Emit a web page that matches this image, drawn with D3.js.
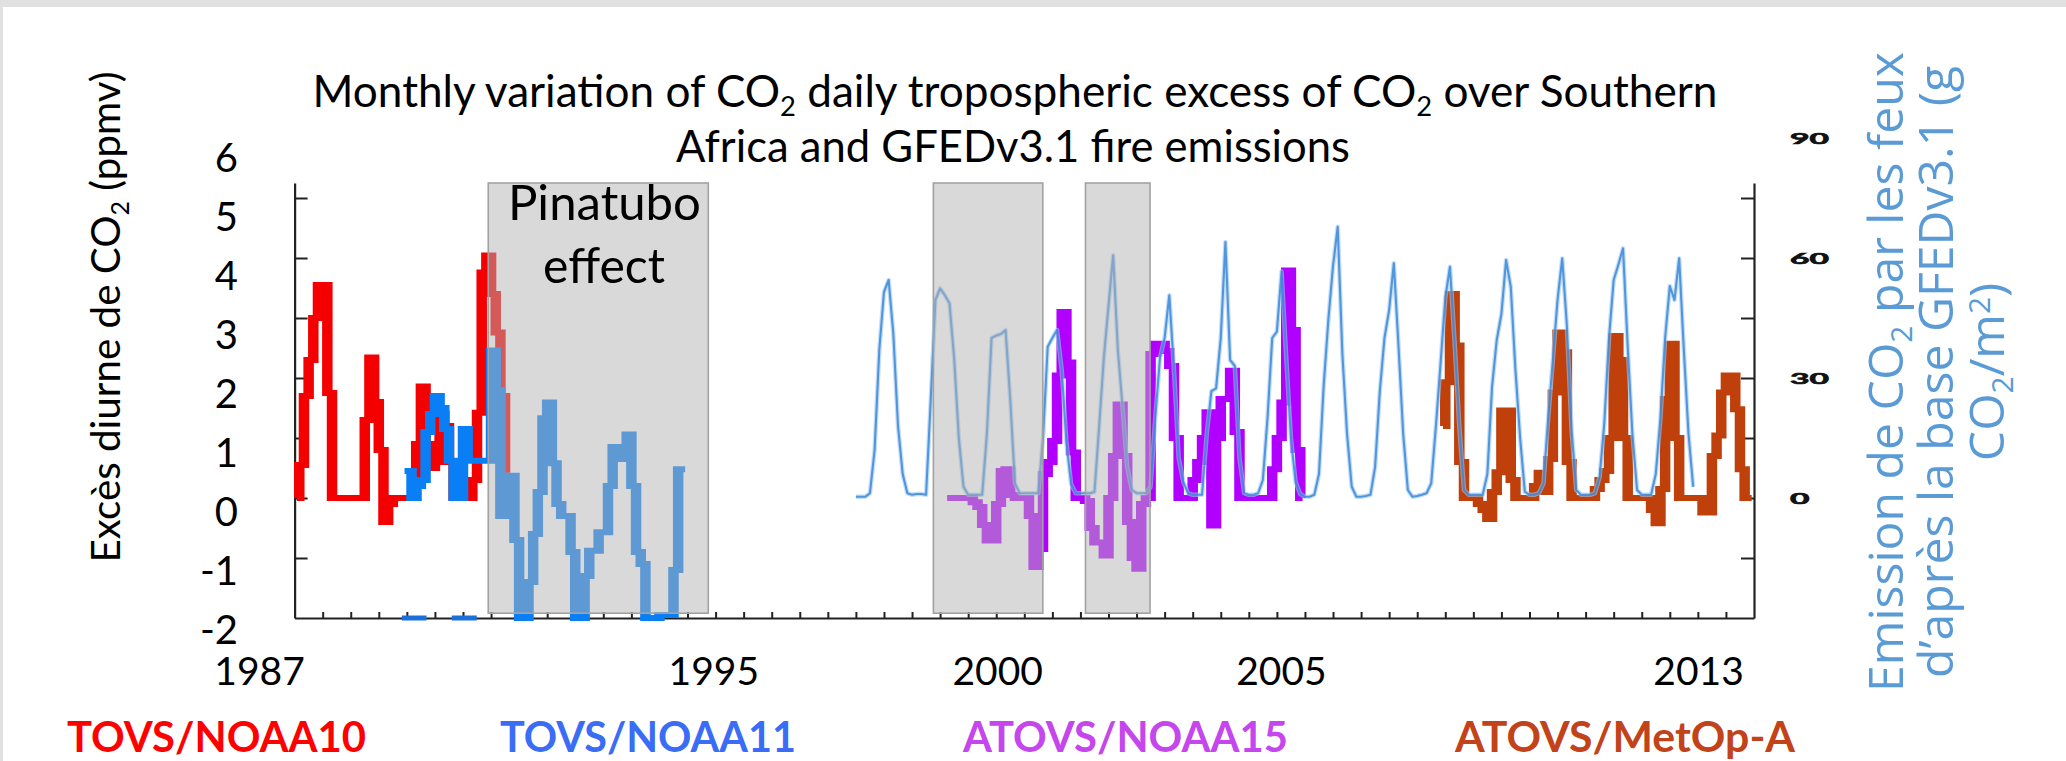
<!DOCTYPE html>
<html>
<head>
<meta charset="utf-8">
<script src="https://cdn.jsdelivr.net/npm/d3@7"></script>
<style>
  html, body { margin: 0; padding: 0; background: #fff; }
  svg { display: block; }
  text { font-family: Lato, "Open Sans", sans-serif; }
</style>
</head>
<body>
<svg id="chart" width="2066" height="761"></svg>
<script>
// ---------------- data ----------------
const yearLabels = [1987, 1995, 2000, 2005, 2013];
const leftLabels = [6, 5, 4, 3, 2, 1, 0, -1, -2];
const rightLabels = [90, 60, 30, 0];

// Monthly CO2 tropospheric excess (ppmv), one value per month from the start month
const noaa10Start = 1987;            // January 1987
const noaa10 = [0, 0.55, 1.7, 2.3, 3.0, 3.55, 3.55, 1.75, 0, 0, 0, 0, 0, 0, 0, 1.3, 2.34, 1.6, 0.8, -0.4,
  -0.1, 0, 0, 0, 0, 0, 0.9, 1.86, 0.9, 0.5, 0.6, 1.4, 1.2, 0.6, 0, 0, 0, 0, 0.3, 1.42,
  3.76, 4.04, 3.4, 2.76, 1.7, 0.42];

const noaa11Start = 1987 + 23 / 12;  // December 1988
const noaa11 = [0.45, 0.45, 0, 0.2, 0.3, 1.1, 1.4, 1.7, 1.5, 1.15, 0.62, 0, 0, 1.15, 0.62, 0.62, 0.62, 0.62, 0.62,
  2.46, 1.8, -0.3, 0.37, 0.37, -0.7, -2, -2, -1.4, -0.6, 0.1, 1.33, 1.59, 0.58, -0.1, -0.3, -0.3, -0.9,
  -2, -2, -1.3, -0.88, -0.88, -0.57, -0.57, 0.2, 0.85, 0.65, 0.65, 1.06, 0.2, -0.9, -1.1,
  -2, -2, -2, -1.95, -1.95, -1.95, -1.2, 0.48, 0.48];
// stretches where NOAA-11 sits on the lower bound of the axis
const noaa11Floor = [[1988.91, 1989.35], [1989.80, 1990.245]];

const noaa15Start = 1998 + 7 / 12;   // August 1998
const noaa15 = [0, 0, 0, 0, 0, 0, -0.07, -0.15, -0.45, -0.71, -0.71, -0.1, 0.45, 0.48, 0.05, 0, 0, 0,
  -0.3, -1.15, -0.85, 0.4, 0.6, 0.95, 2.04, 3.1, 2.26, 0.76, 0, 0, -0.05, -0.5, -0.74, -0.74, -0.96,
  0, 0.7, 1.56, 0.7, -0.4, -1.0, -1.18, -0.1, 0, 2.4, 2.57, 2.57, 2.45, 2.2, 1.0, 0, 0, 0, 0.3, 0.6,
  1.0, 1.43, -0.46, 1.0, 1.65, 1.65, 2.12, 1.1, 0, 0, 0, 0, 0, 0, 0, 0.48, 1.0, 1.59, 3.79, 2.8, 0.8, 0];

const metopStart = 2007 + 5 / 12;    // June 2007
const metop = [1.2, 1.93, 3.4, 2.54, 0.6, 0, 0, 0, -0.1, -0.2, -0.35, 0.1, 0.43, 1.46, 1.46, 0.3, 0, 0, 0, 0,
  0.2, 0.42, 0.1, 0.65, 1.76, 2.76, 2.43, 0.6, 0, 0, 0, 0, 0, 0.15, 0.3, 0.45, 1.0, 2.7, 2.3, 1.0,
  0, 0, 0, 0, 0, -0.2, -0.42, 0.15, 1.65, 2.57, 1.0, 0, 0, 0, 0, 0, -0.24, -0.24, 0.7, 1.04, 1.76,
  2.04, 2.04, 1.48, 0.48, 0, 0];

// GFEDv3.1 monthly fire emissions (g CO2 / m2), January 1997 - December 2011
const gfedStart = 1997;
const gfed = [
  0.3, 0.3, 0.3, 1.2, 12, 37, 51.5, 54.5, 41, 18, 6, 1.2,
  0.8, 1.0, 1.0, 0.8, 24.5, 49.5, 52.4, 50.7, 48.7, 35, 15, 2.8,
  0.8, 0.8, 0.8, 0.8, 16, 40, 40.6, 41, 42, 24.5, 3.7, 1.2,
  1.2, 1.2, 1.2, 1.2, 15, 37.8, 40, 42, 32, 14, 3.5, 1.2,
  1.2, 1.2, 1.2, 1.5, 17.8, 35, 48, 60.7, 37, 22.8, 7.8, 2,
  1.2, 1.2, 1.2, 2.8, 20, 35, 40, 50.7, 32, 10, 4, 1.2,
  0.8, 0.8, 0.8, 16, 26.7, 27.4, 40, 64, 34.5, 33, 10, 1.2,
  0.8, 0.8, 1.2, 4.5, 20, 40, 41.6, 56.6, 35, 15, 4, 1,
  0.3, 0.3, 0.8, 6, 28, 44.5, 58, 67.8, 36, 16, 2.8, 0.3,
  0.3, 0.5, 0.8, 7.8, 26.6, 40, 47, 58.7, 38, 16, 2, 0.3,
  0.5, 0.8, 1.2, 3.7, 18, 33.7, 50, 57.8, 38.7, 17.8, 2, 0.8,
  0.8, 0.8, 0.8, 6, 27.8, 39.5, 46, 59.5, 52.8, 32, 15, 1.6,
  0.8, 0.8, 1.2, 3.7, 20, 34.5, 49.5, 59.9, 43, 17, 2, 0.8,
  0.8, 0.8, 1.2, 5.3, 18.7, 40, 54.5, 58.3, 62.4, 37.8, 16, 2,
  0.8, 0.8, 0.8, 6, 20, 40, 53, 49.5, 59.9, 37, 16, 2.8];

// shaded periods (Pinatubo aftermath and two later episodes)
const shadedPeriods = [[1990.45, 1994.37], [1998.38, 2000.33], [2001.09, 2002.24]];

const legendItems = ["TOVS/NOAA10", "TOVS/NOAA11", "ATOVS/NOAA15", "ATOVS/MetOp-A"];

// ---------------- layout ----------------
const svg = d3.select("#chart");
const W = 2066, H = 761;

const x = d3.scaleLinear().domain([1987, 2013]).range([294.6, 1754]);
const y = d3.scaleLinear().domain([-2, 5.25]).range([618, 183]);
const y2 = d3.scaleLinear().domain([-30, 78.75]).range([618, 183]);

// tick-label placement scales (labels sit slightly apart from the tick marks)
const xLab = d3.scaleLinear().domain([1987, 2005, 2013]).range([259.6, 1281.5, 1698.6]);
const yLab = d3.scaleLinear().domain([-2, 6]).range([630, 158]);

const colors = {
  noaa10: "#f50000", noaa11: "#0a7ff5", noaa15: "#b100ff", metop: "#c0400c",
  gfed: "#3483d6", axisTitle2: "#5b9bd5"
};

// page frame
svg.append("rect").attr("width", W).attr("height", H).attr("fill", "#fff");
svg.append("rect").attr("width", W).attr("height", 7).attr("fill", "#e1e1e1");
svg.append("rect").attr("width", 3).attr("height", H).attr("fill", "#e1e1e1");

// ---------------- axes ----------------
const axisStyle = g => {
  g.select(".domain").attr("stroke", "#222").attr("stroke-width", 2.2);
  g.selectAll(".tick line").attr("stroke", "#222").attr("stroke-width", 2);
  g.selectAll(".tick text").remove();
};
svg.append("g").attr("transform", `translate(${x(1987)},0)`)
  .call(d3.axisLeft(y).tickValues(d3.range(-1, 6)).tickSize(-13).tickSizeOuter(0))
  .call(axisStyle);
svg.append("g").attr("transform", `translate(${x(2013)},0)`)
  .call(d3.axisRight(y2).tickValues(d3.range(-15, 76, 15)).tickSize(-13).tickSizeOuter(0))
  .call(axisStyle);
svg.append("g").attr("transform", `translate(0,${y(-2)})`)
  .call(d3.axisBottom(x).tickValues(d3.range(1987.5, 2013, 0.5)).tickSize(-6).tickSizeOuter(0))
  .call(axisStyle);

// ---------------- series ----------------
const monthly = (start, vals) => vals.map((v, i) => ({ t: start + (i + 0.5) / 12, v }));

// thick step traces are drawn in a horizontally stretched frame so that
// the vertical risers come out wider than the horizontal runs
const K = 1.75;
const stepLine = d3.line().x(d => x(d.t) / K).y(d => y(d.v)).curve(d3.curveStep);
const gSteps = svg.append("g").attr("transform", `scale(${K},1)`);

[[noaa10Start, noaa10, colors.noaa10],
 [noaa11Start, noaa11, colors.noaa11],
 [noaa15Start, noaa15, colors.noaa15],
 [metopStart, metop, colors.metop]].forEach(([s, vals, c]) => {
  gSteps.append("path")
    .attr("d", stepLine(monthly(s, vals)))
    .attr("fill", "none").attr("stroke", c)
    .attr("stroke-width", 6).attr("stroke-linejoin", "miter").attr("stroke-linecap", "butt");
});

// NOAA-11 on the lower bound
svg.append("g").selectAll("line").data(noaa11Floor).join("line")
  .attr("x1", d => x(d[0])).attr("x2", d => x(d[1]))
  .attr("y1", y(-2)).attr("y2", y(-2))
  .attr("stroke", "#1a6fdc").attr("stroke-width", 5);

// GFED fire emissions (right axis)
const gfedPts = gfed.map((v, i) => ({ t: gfedStart + i / 12, v }));
const gfedLine = d3.line().x(d => x(d.t)).y(d => y2(d.v));
svg.append("path").attr("d", gfedLine(gfedPts))
  .attr("fill", "none").attr("stroke", "#9cc8f2").attr("stroke-width", 4.5).attr("stroke-opacity", 0.6)
  .attr("stroke-linejoin", "round");
svg.append("path").attr("d", gfedLine(gfedPts))
  .attr("fill", "none").attr("stroke", colors.gfed).attr("stroke-width", 2.1).attr("stroke-opacity", 0.8)
  .attr("stroke-linejoin", "round");

// shaded periods (translucent grey over the traces)
svg.append("g").selectAll("rect").data(shadedPeriods).join("rect")
  .attr("x", d => x(d[0])).attr("width", d => x(d[1]) - x(d[0]))
  .attr("y", y(5.25)).attr("height", y(-1.92) - y(5.25))
  .attr("fill", "rgb(180,180,180)").attr("fill-opacity", 0.5)
  .attr("stroke", "#a2a2a2").attr("stroke-width", 1.6);

// ---------------- text helpers ----------------
function fitWidth(sel, w) {
  const fs = parseFloat(sel.attr("font-size"));
  const bw = sel.node().getBBox().width;
  if (bw > 0) sel.attr("font-size", fs * w / bw);
  return sel;
}
function addCO2(t, before, after, sub) {
  t.append("tspan").text(before);
  t.append("tspan").attr("font-size", "62%").attr("dy", sub).text("2");
  t.append("tspan").attr("dy", -sub).text(after);
}

// title
const t1 = svg.append("text").attr("x", 1015).attr("y", 107).attr("text-anchor", "middle")
  .attr("font-size", 40).attr("fill", "#000");
t1.append("tspan").text("Monthly variation of CO");
t1.append("tspan").attr("font-size", "62%").attr("dy", 9).text("2");
t1.append("tspan").attr("dy", -9).text(" daily tropospheric excess of CO");
t1.append("tspan").attr("font-size", "62%").attr("dy", 9).text("2");
t1.append("tspan").attr("dy", -9).text(" over Southern");
fitWidth(t1, 1405);
const t2 = svg.append("text").attr("x", 1013).attr("y", 162).attr("text-anchor", "middle")
  .attr("font-size", 40).attr("fill", "#000").text("Africa and GFEDv3.1 fire emissions");
fitWidth(t2, 674);

// left axis title
const lt = svg.append("text").attr("transform", "translate(120,317) rotate(-90)")
  .attr("text-anchor", "middle").attr("font-size", 41).attr("fill", "#000");
addCO2(lt, "Excès diurne de CO", " (ppmv)", 9);
fitWidth(lt, 491);

// right axis title
const rt = svg.append("text").attr("transform", "translate(0,372) rotate(-90)")
  .attr("text-anchor", "middle").attr("fill", colors.axisTitle2).attr("font-size", 42)
  .style("font-family", "'Open Sans', 'Noto Sans', sans-serif");
const r1 = rt.append("tspan").attr("x", 0).attr("y", 1903);
r1.append("tspan").text("Emission de CO");
r1.append("tspan").attr("font-size", "62%").attr("dy", 9).text("2");
r1.append("tspan").attr("dy", -9).text(" par les feux");
rt.append("tspan").attr("x", 0).attr("y", 1953).text("d\u2019après la base GFEDv3.1 (g");
const r3 = rt.append("tspan").attr("x", 0).attr("y", 2004);
r3.append("tspan").text("CO");
r3.append("tspan").attr("font-size", "62%").attr("dy", 9).text("2");
r3.append("tspan").attr("dy", -9).text("/m");
r3.append("tspan").attr("font-size", "62%").attr("dy", -14).text("2");
r3.append("tspan").attr("dy", 14).text(")");
fitWidth(rt, 640);

// tick labels
svg.append("g").selectAll("text").data(yearLabels).join("text")
  .attr("x", d => xLab(d)).attr("y", 685).attr("text-anchor", "middle")
  .attr("font-size", 39).attr("fill", "#000").text(d => d);
svg.append("g").selectAll("text").data(leftLabels).join("text")
  .attr("x", 238).attr("y", d => yLab(d)).attr("dy", "0.36em").attr("text-anchor", "end")
  .attr("font-size", 40).attr("fill", "#000").text(d => d);
svg.append("g").selectAll("text").data(rightLabels).join("text")
  .attr("transform", d => `translate(1790,${y2(d)}) scale(2.1,1)`)
  .attr("dy", "0.36em")
  .attr("font-family", "DejaVu Sans Mono").attr("font-weight", "bold")
  .attr("font-size", 16).attr("fill", "#111")
  .attr("stroke", "#111").attr("stroke-width", 0.7).text(d => d);

// annotation in the Pinatubo period
const pa = svg.append("text").attr("x", 604.5).attr("y", 220).attr("text-anchor", "middle")
  .attr("font-size", 40).attr("fill", "#000").text("Pinatubo");
fitWidth(pa, 193);
const pb = svg.append("text").attr("x", 604).attr("y", 283).attr("text-anchor", "middle")
  .attr("font-size", 40).attr("fill", "#000").text("effect");
fitWidth(pb, 122);

// legend row
const legendX = [67, 500, 963, 1455];
const legendW = [299, 296, 326, 342];
const legendC = ["#ff0000", "#3a6cf6", "#c446ec", "#c2421a"];
legendItems.forEach((name, i) => {
  const lg = svg.append("text").attr("x", legendX[i]).attr("y", 752)
    .attr("font-size", 42).attr("font-weight", "bold").attr("fill", legendC[i]).text(name);
  fitWidth(lg, legendW[i]);
});
</script>
</body>
</html>
